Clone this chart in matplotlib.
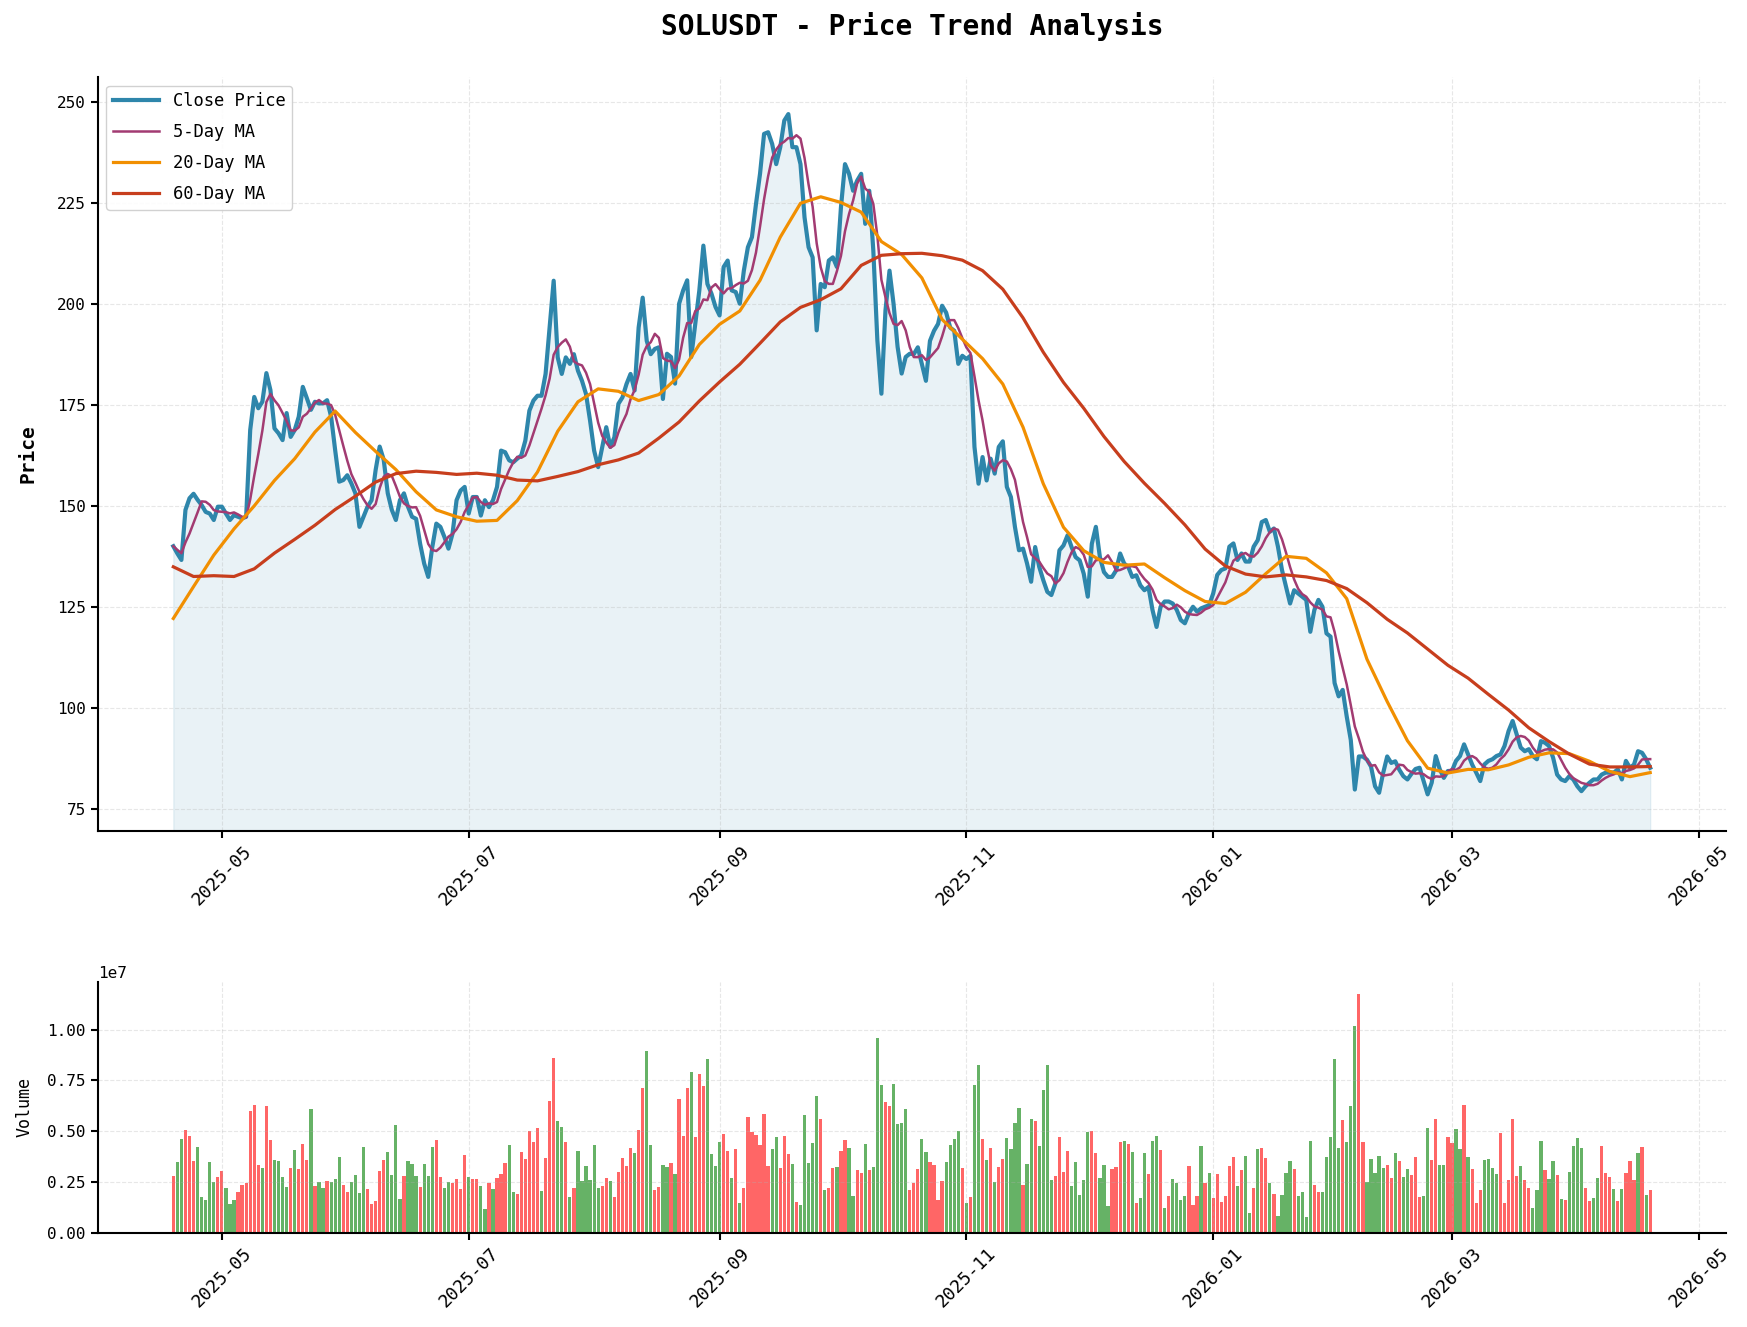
import matplotlib
matplotlib.use('Agg')
import matplotlib.pyplot as plt
import matplotlib.dates as mdates
from matplotlib.ticker import MultipleLocator
import pandas as pd, numpy as np

plt.rcParams['font.family'] = ['DejaVu Sans Mono']

# daily data, 2025-04-19 .. 2026-04-19
start_date = '2025-04-19'

close = [
    140.0, 138.2, 136.6, 149.0, 151.9, 153.0, 151.5, 150.2, 148.5, 148.1,
    146.5, 149.8, 149.8, 148.1, 146.5, 147.7, 147.3, 146.9, 147.3, 168.8,
    177.0, 174.2, 175.8, 182.9, 178.7, 169.2, 168.0, 166.3, 173.0, 167.1,
    168.8, 172.1, 179.5, 176.7, 173.8, 175.8, 175.4, 175.4, 176.2, 172.1,
    163.8, 156.0, 156.4, 157.6, 155.6, 153.1, 144.8, 147.3, 149.8, 151.4,
    158.9, 164.7, 161.4, 153.1, 149.0, 146.5, 151.4, 153.1, 149.8, 147.3,
    146.8, 140.6, 135.7, 132.4, 139.8, 145.6, 144.8, 142.3, 139.4, 143.1,
    151.4, 153.8, 154.7, 148.1, 152.2, 152.2, 147.6, 151.4, 149.7, 151.4,
    154.7, 163.7, 163.3, 161.3, 160.8, 161.7, 162.5, 166.2, 173.6, 176.1,
    177.3, 177.3, 182.7, 194.2, 205.8, 186.8, 182.7, 186.8, 185.2, 187.6,
    183.5, 181.0, 177.7, 171.1, 163.7, 159.6, 164.6, 169.5, 164.6, 167.0,
    175.3, 176.9, 180.2, 182.7, 178.6, 194.2, 201.6, 190.9, 187.6, 188.9,
    189.3, 176.5, 187.7, 186.9, 180.3, 200.1, 203.4, 205.9, 186.9, 195.1,
    203.4, 214.5, 205.0, 202.6, 199.3, 197.2, 209.2, 210.8, 203.4, 203.0,
    200.1, 208.3, 214.1, 216.6, 224.8, 232.3, 242.2, 242.6, 239.7, 234.7,
    238.9, 245.5, 247.1, 238.9, 238.9, 234.7, 221.5, 214.1, 211.6, 193.5,
    205.0, 204.2, 210.8, 211.6, 209.2, 224.0, 234.7, 232.3, 228.1, 230.6,
    232.3, 219.9, 228.1, 213.3, 191.0, 177.8, 198.4, 208.3, 200.1, 189.4,
    182.8, 186.9, 187.7, 187.6, 189.3, 185.2, 181.0, 190.9, 193.4, 195.1,
    199.6, 197.9, 194.2, 193.4, 185.2, 187.2, 186.4, 187.2, 164.6, 155.5,
    162.1, 156.3, 161.7, 158.0, 164.6, 166.0, 154.7, 152.2, 144.8, 139.0,
    139.4, 135.7, 131.2, 139.8, 134.9, 131.6, 128.7, 127.9, 130.8, 139.0,
    140.2, 142.7, 139.8, 137.3, 136.5, 133.2, 127.5, 140.6, 144.8, 137.3,
    133.6, 132.4, 132.4, 134.0, 138.2, 135.7, 134.9, 132.4, 132.8, 130.3,
    129.1, 129.9, 124.2, 120.0, 125.0, 126.3, 126.3, 125.8, 124.2, 121.7,
    120.9, 123.4, 125.0, 123.8, 124.6, 125.0, 125.4, 128.3, 132.9, 134.1,
    134.5, 139.9, 140.7, 136.6, 138.2, 136.2, 136.2, 139.9, 141.5, 146.0,
    146.5, 143.6, 144.4, 139.9, 134.1, 130.0, 125.8, 129.1, 128.3, 127.5,
    126.7, 118.8, 124.2, 126.7, 125.0, 118.4, 117.6, 106.1, 102.8, 104.4,
    97.8, 92.0, 79.7, 87.9, 87.9, 87.1, 85.4, 80.5, 78.9, 83.8,
    87.9, 86.3, 86.7, 84.6, 83.0, 82.2, 83.6, 84.8, 85.1, 81.8,
    78.5, 81.4, 88.0, 84.7, 82.6, 84.3, 84.3, 86.8, 88.0, 90.9,
    88.4, 85.9, 83.9, 81.8, 85.9, 86.8, 87.2, 88.0, 88.4, 90.5,
    94.2, 96.7, 93.4, 90.1, 89.2, 89.7, 88.0, 87.2, 91.7, 91.3,
    90.5, 87.6, 83.4, 82.2, 81.8, 83.0, 82.2, 80.5, 79.3, 80.5,
    81.4, 82.2, 82.2, 83.4, 83.9, 83.9, 83.9, 84.7, 82.2, 86.8,
    85.1, 85.9, 89.2, 88.8, 87.2, 85.1,
]

# volume in millions
volume = [
    2.80, 3.49, 4.62, 5.07, 4.77, 3.54, 4.23, 1.76, 1.61, 3.49,
    2.50, 2.75, 3.04, 2.20, 1.41, 1.61, 2.01, 2.35, 2.45, 6.00,
    6.30, 3.34, 3.19, 6.25, 4.57, 3.59, 3.54, 2.75, 2.25, 3.19,
    4.08, 3.14, 4.38, 3.59, 6.10, 2.30, 2.50, 2.20, 2.55, 2.50,
    2.65, 3.73, 2.35, 2.01, 2.50, 2.85, 1.96, 4.23, 2.15, 1.41,
    1.56, 3.04, 3.59, 3.98, 2.85, 5.31, 1.66, 2.80, 3.54, 3.39,
    2.80, 2.25, 3.39, 2.80, 4.23, 4.57, 2.75, 2.20, 2.50, 2.45,
    2.65, 2.15, 3.83, 2.75, 2.65, 2.65, 2.30, 1.17, 2.45, 2.15,
    2.70, 2.89, 3.44, 4.33, 2.01, 1.91, 3.98, 3.63, 5.02, 4.47,
    5.16, 2.06, 3.68, 6.50, 8.62, 5.51, 5.21, 4.47, 1.76, 2.20,
    4.03, 2.55, 3.29, 2.60, 4.33, 2.20, 2.30, 2.70, 2.55, 1.76,
    2.99, 3.68, 3.29, 4.18, 3.93, 5.07, 7.14, 8.96, 4.33, 2.11,
    2.25, 3.34, 3.24, 3.44, 2.89, 6.60, 4.77, 7.14, 7.93, 4.72,
    7.83, 7.24, 8.57, 3.88, 3.29, 4.47, 4.87, 4.03, 2.70, 4.13,
    1.46, 2.20, 5.71, 4.97, 4.82, 4.33, 5.86, 3.29, 4.13, 4.72,
    3.19, 4.77, 3.88, 3.39, 1.51, 1.37, 5.81, 3.44, 4.42, 6.74,
    5.61, 2.11, 2.20, 3.19, 3.24, 4.03, 4.57, 4.18, 1.81, 3.09,
    2.94, 4.38, 3.09, 3.24, 9.61, 7.29, 6.45, 6.25, 7.34, 5.36,
    5.41, 6.10, 2.11, 2.45, 3.14, 4.62, 3.98, 3.49, 3.34, 1.61,
    2.55, 3.49, 4.33, 4.62, 5.02, 3.19, 1.46, 1.76, 7.29, 8.27,
    4.62, 3.59, 4.18, 2.50, 3.24, 3.63, 4.67, 4.13, 5.41, 6.15,
    2.35, 3.39, 5.61, 5.51, 4.28, 7.04, 8.27, 2.60, 2.80, 4.72,
    2.99, 4.03, 2.30, 3.49, 1.86, 2.60, 4.97, 5.02, 3.93, 2.70,
    3.34, 1.32, 3.14, 3.24, 4.47, 4.52, 4.38, 3.98, 1.46, 1.71,
    3.93, 2.89, 4.52, 4.77, 4.08, 1.22, 1.81, 2.65, 2.45, 1.61,
    1.81, 3.29, 1.37, 1.81, 4.28, 2.45, 2.94, 1.71, 2.89, 1.51,
    1.81, 3.29, 3.73, 2.30, 3.09, 3.78, 0.97, 2.20, 4.13, 4.18,
    3.68, 2.45, 1.91, 0.82, 1.86, 2.94, 3.54, 3.14, 1.81, 2.01,
    0.77, 4.52, 2.35, 2.01, 2.01, 3.73, 4.72, 8.57, 4.18, 5.56,
    4.47, 6.25, 10.20, 11.78, 4.47, 2.50, 3.63, 2.94, 3.78, 3.19,
    3.34, 2.70, 3.93, 3.54, 2.75, 3.14, 2.85, 3.73, 1.76, 1.81,
    5.16, 3.59, 5.61, 3.34, 3.34, 4.72, 4.42, 5.12, 4.13, 6.30,
    3.73, 3.14, 1.46, 2.11, 3.59, 3.63, 3.19, 2.89, 4.92, 1.46,
    2.60, 5.61, 2.80, 3.29, 2.60, 2.20, 1.22, 2.11, 4.52, 3.09,
    2.65, 3.54, 2.85, 1.66, 1.61, 2.99, 4.28, 4.67, 4.18, 2.20,
    1.56, 1.71, 2.70, 4.28, 2.94, 2.75, 2.15, 1.56, 2.15, 2.94,
    3.54, 2.60, 3.93, 4.23, 1.86, 2.11,
]

# 'g' = up day, 'r' = down day (10 days per chunk)
vol_dir = ''.join([
    "rggrrrgggg", "grrgggrrrr", "rrgrrggggr", "grrrgrggrg", "ggrrggggrr",
    "rrrggggrgg", "grgggrrggr", "rrrgrrggrg", "rrrggrrrrr", "rgrrrggrgr",
    "ggggggrrgr", "rrrrgrrggr", "rggrgrrrgr", "rrggggrrgr", "grrrrrrrgg",
    "rrrgrggggg", "rgrrgrrggr", "rgrgggrrgg", "ggrrrggrrr", "rggggrgrgg",
    "rgrgrrgggg", "rggrggggrr", "rrgggggrrg", "ggrrrgrgrg", "grggrgrggg",
    "grrrgrgrrr", "rrrgrggrgr", "rgrggggrgg", "ggrrgggggr", "gggrrggggg",
    "rrgrggrrrg", "grrggrrggr", "grrrggggrr", "rrrgrrgggr", "ggrgrggggr",
    "rggrrrgrgr", "rrgrgrrggg",
])[:366]

ma20_every5 = [
    122.1, 130.0, 137.8, 144.3, 150.0, 156.3, 161.7, 168.3, 173.5, 168.2,
    163.5, 159.0, 153.5, 149.0, 147.3, 146.2, 146.4, 151.3, 158.4, 168.5,
    175.8, 179.0, 178.4, 176.1, 177.6, 182.2, 190.0, 195.0, 198.3, 205.9,
    216.6, 225.0, 226.6, 225.2, 222.8, 215.5, 212.3, 206.5, 196.2, 191.3,
    186.5, 180.2, 169.5, 155.5, 144.7, 138.9, 136.0, 135.3, 135.6, 132.2,
    129.0, 126.3, 125.8, 128.6, 133.2, 137.5, 137.0, 133.4, 127.0, 112.0,
    101.5, 91.8, 85.0, 83.8, 84.7, 84.6, 85.8, 87.7, 88.8, 88.6,
    86.7, 84.2, 82.9, 83.9,
]

ma60_every5 = [
    134.9, 132.5, 132.7, 132.5, 134.4, 138.3, 141.7, 145.2, 149.1, 152.4,
    155.9, 158.0, 158.6, 158.3, 157.8, 158.1, 157.6, 156.4, 156.2, 157.3,
    158.5, 160.2, 161.4, 163.1, 166.8, 170.8, 176.0, 180.7, 185.1, 190.3,
    195.6, 199.2, 201.1, 203.8, 209.6, 212.1, 212.5, 212.6, 212.0, 210.9,
    208.3, 203.7, 196.6, 188.1, 180.6, 174.2, 167.2, 161.0, 155.6, 150.6,
    145.3, 139.3, 135.1, 133.1, 132.4, 132.9, 132.4, 131.5, 129.5, 126.0,
    121.9, 118.5, 114.5, 110.5, 107.3, 103.3, 99.4, 95.0, 91.6, 88.5,
    86.0, 85.3, 85.3, 85.4,
]

dates = pd.date_range(start_date, periods=len(close), freq='D')
df = pd.DataFrame({'close': close, 'volume': np.array(volume) * 1e6}, index=dates)
df['ma5'] = df['close'].rolling(5, min_periods=1).mean()
ma_dates = dates[::5]

fig = plt.figure(figsize=(17.47, 13.27), dpi=100)
ax1 = fig.add_axes([0.0559, 0.374, 0.932, 0.568])
ax2 = fig.add_axes([0.0559, 0.0711, 0.932, 0.1891])

# price panel
ax1.plot(df.index, df['close'], color='#2E86AB', lw=3.0, label='Close Price')
ax1.plot(df.index, df['ma5'], color='#A23B72', lw=1.8, label='5-Day MA')
ax1.plot(ma_dates, ma20_every5, color='#F18F01', lw=2.3, label='20-Day MA')
ax1.plot(ma_dates, ma60_every5, color='#C73E1D', lw=2.3, label='60-Day MA')
ax1.fill_between(df.index, df['close'], 0, color='#2E86AB', alpha=0.1)
ax1.set_ylim(69.5, 256.3)
ax1.set_ylabel('Price', fontsize=14, fontweight='bold', labelpad=14)
ax1.legend(loc='upper left', fontsize=12.3, handlelength=2.7, labelspacing=0.75,
           framealpha=0.9)
ax1.set_title('SOLUSDT - Price Trend Analysis', fontsize=20, fontweight='bold', pad=30)

# volume panel
bar_colors = ['green' if c == 'g' else 'red' for c in vol_dir]
ax2.bar(df.index, df['volume'], width=0.8, color=bar_colors, alpha=0.6)
ax2.set_ylabel('Volume', fontsize=12, labelpad=10)
ax2.yaxis.set_major_locator(MultipleLocator(2.5e6))

for ax in (ax1, ax2):
    ax.grid(True, linestyle='--', alpha=0.3)
    ax.spines['top'].set_visible(False)
    ax.spines['right'].set_visible(False)
    ax.spines['left'].set_linewidth(1.5)
    ax.spines['bottom'].set_linewidth(1.5)
    ax.xaxis.set_major_locator(mdates.MonthLocator(bymonth=[1, 3, 5, 7, 9, 11]))
    ax.xaxis.set_major_formatter(mdates.DateFormatter('%Y-%m'))
    ax.tick_params(axis='y', labelsize=11.5, width=1.5, length=5)
    ax.tick_params(axis='x', labelsize=13, width=1.5, length=5, rotation=45)
    ax.set_xlim(dates[0] - pd.Timedelta(days=18.7), dates[-1] + pd.Timedelta(days=18.7))
ax2.yaxis.get_offset_text().set_fontsize(11.5)

fig.savefig('out.png', dpi=100)
